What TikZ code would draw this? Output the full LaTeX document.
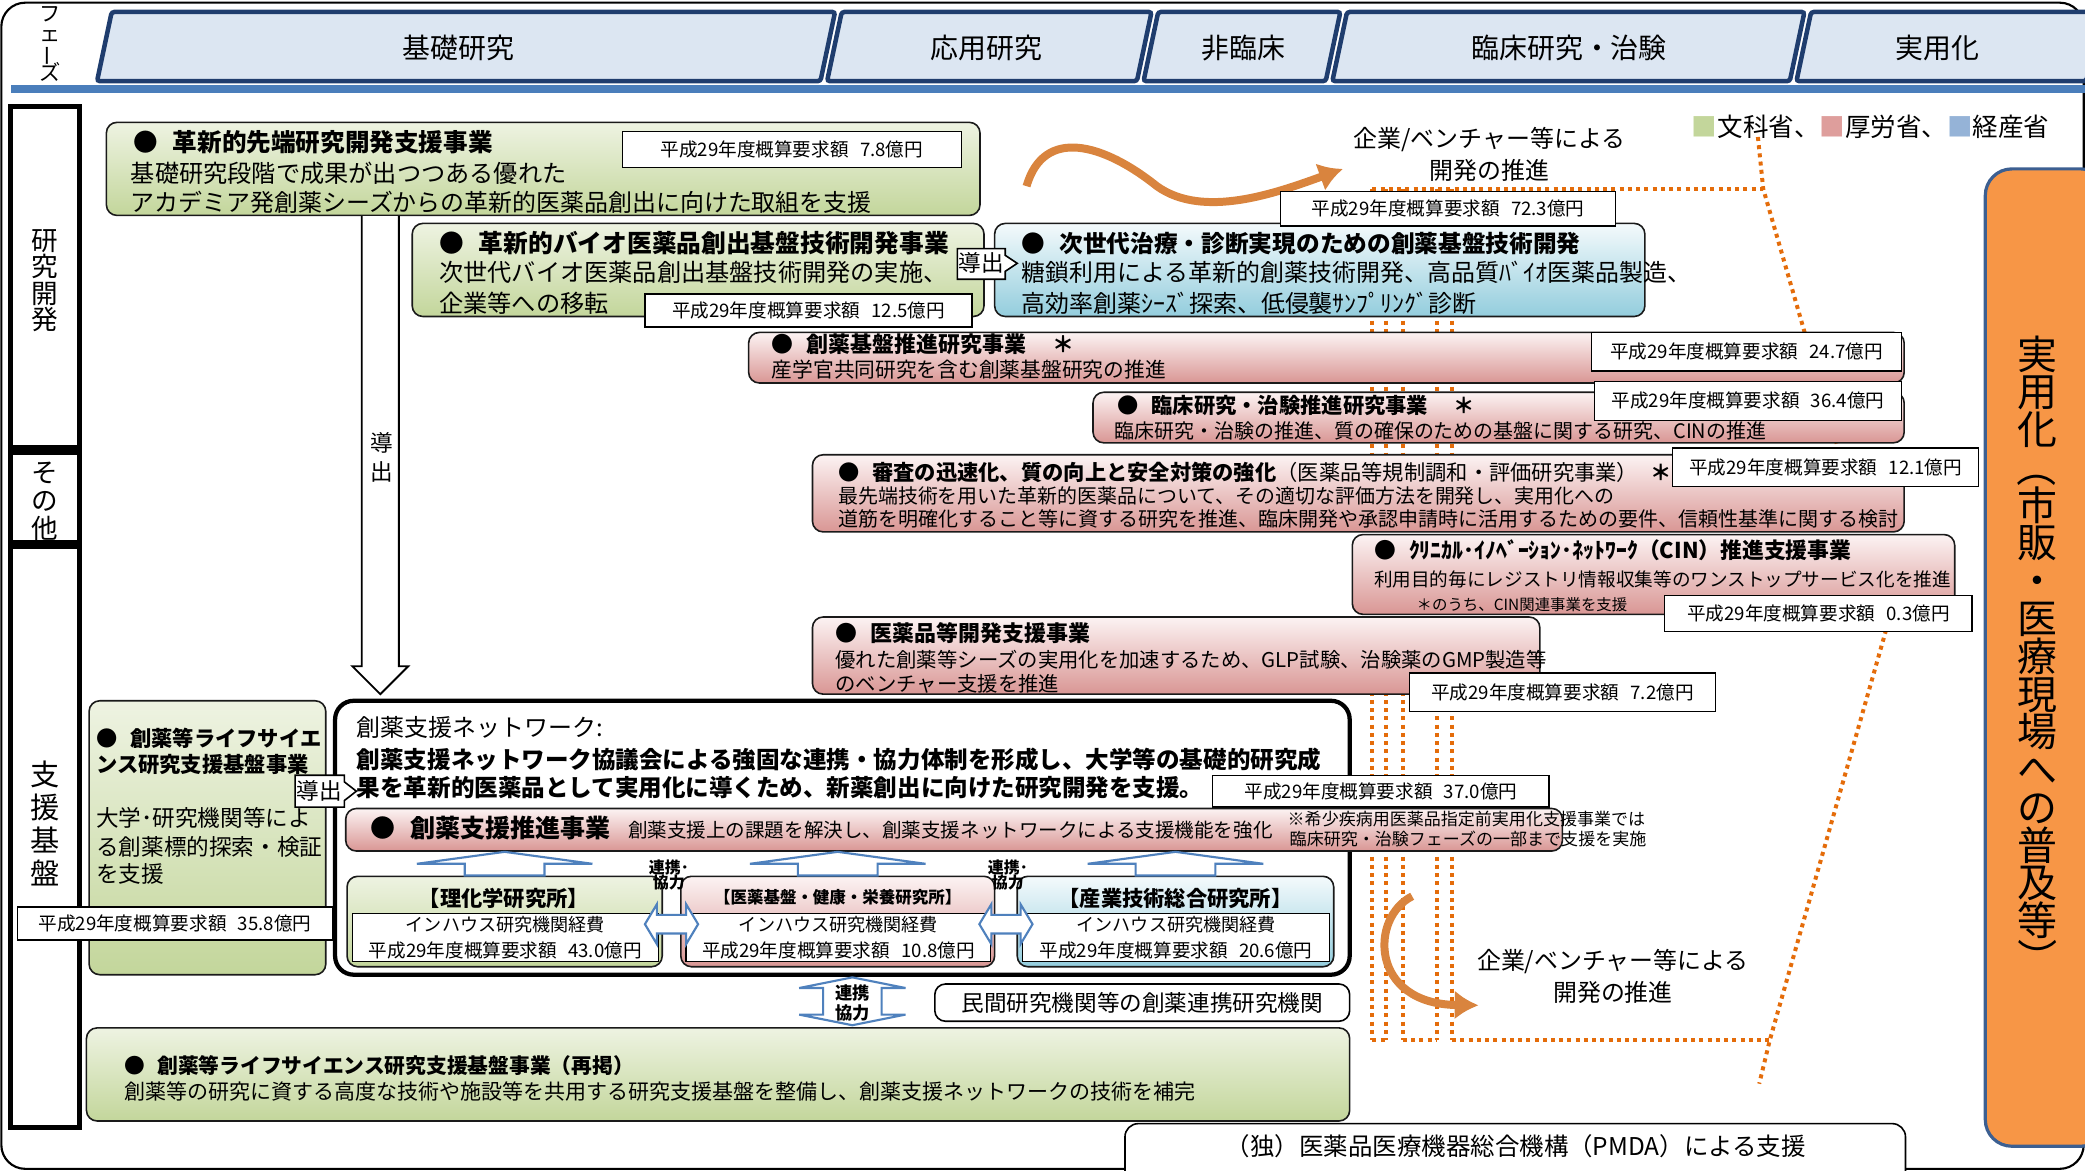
\documentclass[tikz,border=0pt]{standalone}
\usepackage{fontspec}
\setmainfont{Noto Sans CJK JP}
\usetikzlibrary{fit,calc,arrows.meta}

\definecolor{navy}{HTML}{1F3D6E}
\definecolor{phasefill}{HTML}{DCE6F2}
\definecolor{barblue}{HTML}{4A7EBB}
\definecolor{gtop}{HTML}{EEF3E2}
\definecolor{gbot}{HTML}{C3D69B}
\definecolor{ptop}{HTML}{FCF3F3}
\definecolor{pbot}{HTML}{D99694}
\definecolor{btop}{HTML}{F4FAFC}
\definecolor{bbot}{HTML}{93CDDD}
\definecolor{dorange}{HTML}{E46C0A}
\definecolor{ribbon}{HTML}{D9843E}
\definecolor{pract}{HTML}{F79646}
\definecolor{practedge}{HTML}{3C5F91}
\definecolor{arrblue}{HTML}{4F81BD}
\definecolor{edge}{HTML}{1A1A1A}
\definecolor{legG}{HTML}{C3D69B}
\definecolor{legP}{HTML}{DE9E9C}
\definecolor{legB}{HTML}{95B3D7}

\newcommand\fsz[1]{\fontsize{#1pt}{#1pt}\selectfont}
\newcommand\vfsz[2]{\fontsize{#1pt}{#2pt}\selectfont\lineskiplimit=-100pt\relax}
\newcommand\budtext[1]{平成29年度概算要求額\hspace{0.6em}#1億円}
\newcommand\bul{●\hspace{0.6em}}

\tikzset{
  phase/.style={draw=navy, line width=1.7pt, fill=phasefill, rounded corners=1pt},
  side/.style={draw=black, line width=2pt, inner sep=0},
  card/.style={draw=edge, line width=0.6pt, rounded corners=4pt, inner sep=0},
  mextbox/.style={card, top color=gtop, bottom color=gbot},
  mhlwbox/.style={card, top color=ptop, bottom color=pbot},
  metibox/.style={card, top color=btop, bottom color=bbot},
  budget/.style={draw=black, line width=0.5pt, fill=white, inner sep=0},
  budtx/.style={inner sep=0, font=\fsz{7}},
  ln/.style={anchor=west, inner sep=0},
  dots/.style={draw=dorange, line width=1.5pt, dash pattern=on 1.5pt off 1.6pt},
  ribbonarr/.style={draw=ribbon, line width=3pt, -{Latex[length=9pt,width=11pt]}},
  blarr/.style={draw=arrblue, line width=0.8pt, fill=white},
}

\newcommand\upblock[2]{\draw[blarr] let \p1=(#1.north), \p2=(#2.south) in
  (\x1-15pt,\y1) -- (\x1-15pt,\y2-4.5pt) -- (\x1-33pt,\y2-4.5pt) -- (\x1,\y2)
  -- (\x1+33pt,\y2-4.5pt) -- (\x1+15pt,\y2-4.5pt) -- (\x1+15pt,\y1) -- cycle;}
\newcommand\lrblock[1]{\draw[blarr] (#1) ++(-20,0) -- ++(9,-15) -- ++(0,8) -- ++(22,0)
  -- ++(0,-8) -- ++(9,15) -- ++(-9,15) -- ++(0,-8) -- ++(-22,0) -- ++(0,8) -- cycle;}
\newcommand\udblock[1]{\draw[blarr] (#1) ++(0,-18) -- ++(40,8) -- ++(-18,0) -- ++(0,20)
  -- ++(18,0) -- ++(-40,8) -- ++(-40,-8) -- ++(18,0) -- ++(0,-20) -- ++(-18,0) -- cycle;}

\begin{document}
\begin{tikzpicture}[x=0.5pt,y=-0.5pt]
\useasboundingbox (0,0) rectangle (1568,880);
\draw[line width=0.8pt, rounded corners=9pt] (1,2) rectangle (1567,879);

% phases
\node[inner sep=0, align=center, font=\vfsz{8}{7.4}] (phase) at (38,33)
  {フ\\ェ\\\rotatebox[origin=c]{90}{ー}\\ズ};
\draw[phase] (84,9) -- (628,9) -- (617,61) -- (73,61) -- cycle;
\draw[phase] (633,9) -- (866,9) -- (855,61) -- (622,61) -- cycle;
\draw[phase] (871,9) -- (1008,9) -- (997,61) -- (860,61) -- cycle;
\draw[phase] (1013,9) -- (1357,9) -- (1346,61) -- (1002,61) -- cycle;
\draw[phase] (1362,9) -- (1580,9) -- (1569,61) -- (1351,61) -- cycle;
\node[font=\fsz{10.5}] (ph1) at (345,36) {基礎研究};
\node[font=\fsz{10.5}] (ph2) at (742,36) {応用研究};
\node[font=\fsz{10.5}] (ph3) at (935,36) {非臨床};
\node[font=\fsz{10.5}] (ph4) at (1180,36) {臨床研究・治験};
\node[font=\fsz{10.5}] (ph5) at (1457,36) {実用化};
\fill[barblue] (8,64) rectangle (1568,70);

% left column
\node[side, fit={(8,80) (60,337)}] (rd) {};
\node[side, fit={(8,340) (60,408)}] (oth) {};
\node[side, fit={(8,411) (60,848)}] (base) {};
\node[inner sep=0, align=center, font=\vfsz{10}{10}] (rdt) at (34,211) {研\\究\\開\\発};
\node[inner sep=0, align=center, font=\vfsz{10}{10.5}] (otht) at (34,377) {そ\\の\\他};
\node[inner sep=0, align=center, font=\vfsz{11}{12.4}] (baset) at (34,619) {支\\援\\基\\盤};

% legend
\node[ln, font=\fsz{9.6}] (legend) at (1272,95)
  {\textcolor{legG}{■}文科省、\textcolor{legP}{■}厚労省、\textcolor{legB}{■}経産省};

% dotted brackets (behind the boxes)
\draw[dots] (1032,142) -- (1326,142);
\foreach \xx in {1032,1042,1055,1081,1092} \draw[dots] (\xx,142) -- (\xx,782);
\draw[dots] (1032,782) -- (1042,782);
\draw[dots] (1055,782) -- (1081,782);
\draw[dots] (1092,782) -- (1331,782);
\draw[dots] (1322,103) -- (1326,142) -- (1420,468) -- (1331,782) -- (1323,815);

% practical use
\node[fit={(1493,127) (1585,862)}, draw=practedge, line width=1.2pt, fill=pract,
  rounded corners=10pt, inner sep=0] (prac) {};
\node[inner sep=0, align=center, font=\vfsz{15}{14.2}] (pract) at (1532,494)
  {実\\用\\化\\\rotatebox[origin=c]{-90}{（}\\市\\販\\・\\医\\療\\現\\場\\へ\\の\\普\\及\\等\\\rotatebox[origin=c]{-90}{）}};

% upper orange ribbon
\node[font=\fsz{9}, inner sep=0] (dev1) at (1120,105) {企業/ベンチャー等による};
\node[font=\fsz{9}, inner sep=0] (dev1b) at (1120,128) {開発の推進};
\coordinate (rib1s) at (772,140);
\coordinate (rib1e) at (1010,127);
\draw[ribbonarr] (rib1s) .. controls (785,95) and (830,108) .. (870,140)
  .. controls (905,165) and (960,145) .. (rib1e);

% research
\node[mextbox, fit={(80,92) (737,162)}] (g1) {};
\node[ln, font=\fsz{9.25}\bfseries] (g1t) at (100,107) {\bul 革新的先端研究開発支援事業};
\node[ln, font=\fsz{9.1}] (g1a) at (98,130) {基礎研究段階で成果が出つつある優れた};
\node[ln, font=\fsz{9}] (g1b) at (98,152) {アカデミア発創薬シーズからの革新的医薬品創出に向けた取組を支援};
\node[budget, fit={(468,99) (723,126)}] (b1) {};
\node[budtx] at (b1) {\budtext{7.8}};

\draw[fill=white, line width=0.7pt] (272,0 |- g1.south) -- (272,501) -- (265,501) -- (286,522)
  -- (307,501) -- (300,501) -- (300,0 |- g1.south);
\node[inner sep=0, align=center, font=\vfsz{8.5}{11}] (dshaft) at (287,344) {導\\出};

\node[mextbox, fit={(310,168) (740,238)}] (g2) {};
\node[ln, font=\fsz{9.3}\bfseries] (g2t) at (330,183) {\bul 革新的バイオ医薬品創出基盤技術開発事業};
\node[ln, font=\fsz{9.1}] (g2a) at (330,205) {次世代バイオ医薬品創出基盤技術開発の実施、};
\node[ln, font=\fsz{9.1}] (g2b) at (330,228) {企業等への移転};
\node[budget, fit={(485,221) (731,246)}] (b2) {};
\node[budtx] at (b2) {\budtext{12.5}};

\node[metibox, fit={(748,168) (1237,238)}] (nx) {};
\node[ln, font=\fsz{8.9}\bfseries] (nxt) at (768,183) {\bul 次世代治療・診断実現のための創薬基盤技術開発};
\node[ln, font=\fsz{9}] (nxa) at (768,205) {糖鎖利用による革新的創薬技術開発、高品質ﾊﾞｲｵ医薬品製造、};
\node[ln, font=\fsz{9}] (nxb) at (768,228) {高効率創薬ｼｰｽﾞ探索、低侵襲ｻﾝﾌﾟﾘﾝｸﾞ診断};
\node[budget, fit={(963,144) (1215,170)}] (b3) {};
\node[budtx] at (b3) {\budtext{72.3}};

\draw[fill=white, line width=0.6pt] (720,187) -- (756,187) -- (756,192) -- (765,198)
  -- (756,204) -- (756,210) -- (720,210) -- cycle;
\node[font=\fsz{8.5}, inner sep=0] (d1) at (738,198) {導出};

% MHLW programmes
\node[mhlwbox, fit={(563,250) (1432,288)}] (p1) {};
\node[ln, font=\fsz{8.25}\bfseries] (p1t) at (580,259) {\bul 創薬基盤推進研究事業\hspace{1.2em}＊};
\node[ln, font=\fsz{7.8}] (p1a) at (580,278) {産学官共同研究を含む創薬基盤研究の推進};
\node[budget, fit={(1197,250) (1430,279)}] (b4) {};
\node[budtx] at (b4) {\budtext{24.7}};

\node[mhlwbox, fit={(822,295) (1432,333)}] (p2) {};
\node[ln, font=\fsz{8}\bfseries] (p2t) at (840,305) {\bul 臨床研究・治験推進研究事業\hspace{1.2em}＊};
\node[ln, font=\fsz{7.5}] (p2a) at (838,324) {臨床研究・治験の推進、質の確保のための基盤に関する研究、CINの推進};
\node[budget, fit={(1199,287) (1430,316)}] (b5) {};
\node[budtx] at (b5) {\budtext{36.4}};

\node[mhlwbox, fit={(611,342) (1432,400)}] (p3) {};
\node[ln, font=\fsz{8}] (p3t) at (630,355)
  {\textbf{\bul 審査の迅速化、質の向上と安全対策の強化}（医薬品等規制調和・評価研究事業）\hspace{0.6em}\textbf{＊}};
\node[ln, font=\fsz{7.5}] (p3a) at (630,373) {最先端技術を用いた革新的医薬品について、その適切な評価方法を開発し、実用化への};
\node[ln, font=\fsz{7.52}] (p3b) at (630,390) {道筋を明確化すること等に資する研究を推進、臨床開発や承認申請時に活用するための要件、信頼性基準に関する検討};
\node[budget, fit={(1258,337) (1488,366)}] (b6) {};
\node[budtx] at (b6) {\budtext{12.1}};

\node[mhlwbox, fit={(1017,402) (1470,462)}] (p4) {};
\node[ln, font=\fsz{8.2}\bfseries] (p4t) at (1033,414) {\bul ｸﾘﾆｶﾙ･ｲﾉﾍﾞｰｼｮﾝ･ﾈｯﾄﾜｰｸ（CIN）推進支援事業};
\node[ln, font=\fsz{7}] (p4a) at (1033,436) {利用目的毎にレジストリ情報収集等のワンストップサービス化を推進};
\node[ln, font=\fsz{5.8}] (p4b) at (1065,455) {＊のうち、CIN関連事業を支援};
\node[budget, fit={(1252,448) (1483,475)}] (b7) {};
\node[budtx] at (b7) {\budtext{0.3}};

\node[mhlwbox, fit={(611,464) (1158,522)}] (p5) {};
\node[ln, font=\fsz{8.25}\bfseries] (p5t) at (628,476) {\bul 医薬品等開発支援事業};
\node[ln, font=\fsz{7.65}] (p5a) at (628,496) {優れた創薬等シーズの実用化を加速するため、GLP試験、治験薬のGMP製造等};
\node[ln, font=\fsz{7.65}] (p5b) at (628,514) {のベンチャー支援を推進};
\node[budget, fit={(1060,506) (1290,535)}] (b8) {};
\node[budtx] at (b8) {\budtext{7.2}};

% support base
\node[mextbox, fit={(67,527) (245,733)}] (g3) {};
\node[ln, font=\fsz{8}\bfseries] (g3t) at (72,555) {\bul 創薬等ライフサイエ};
\node[ln, font=\fsz{8}\bfseries] (g3u) at (72,575) {ンス研究支援基盤事業};
\node[ln, font=\fsz{8.5}] (g3a) at (72,615) {大学･研究機関等によ};
\node[ln, font=\fsz{8.5}] (g3b) at (72,637) {る創薬標的探索・検証};
\node[ln, font=\fsz{8.5}] (g3c) at (72,657) {を支援};
\node[budget, fit={(13,682) (250,707)}] (b9) {};
\node[budtx] at (b9) {\budtext{35.8}};

\node[fit={(252,527) (1015,733)}, draw=black, line width=1.6pt, fill=white,
  rounded corners=7pt, inner sep=0] (net) {};
\node[ln, font=\fsz{9}] (nett) at (268,547) {創薬支援ネットワーク:};
\node[ln, font=\fsz{8.85}\bfseries] (neta) at (268,571) {創薬支援ネットワーク協議会による強固な連携・協力体制を形成し、大学等の基礎的研究成};
\node[ln, font=\fsz{8.85}\bfseries] (netb) at (268,592) {果を革新的医薬品として実用化に導くため、新薬創出に向けた研究開発を支援。};
\node[budget, fit={(912,583) (1165,607)}] (b10) {};
\node[budtx] at (b10) {\budtext{37.0}};

\draw[fill=white, line width=0.6pt] (222,583) -- (259,583) -- (259,588) -- (268,595)
  -- (259,602) -- (259,607) -- (222,607) -- cycle;
\node[font=\fsz{8.5}, inner sep=0] (d2) at (240,595) {導出};

\node[mhlwbox, fit={(260,608) (1175,640)}] (sb) {};
\node[ln, font=\fsz{9.4}\bfseries] (sbt) at (278,623) {\bul 創薬支援推進事業};
\node[ln, font=\fsz{7.35}] (sba) at (472,624) {創薬支援上の課題を解決し、創薬支援ネットワークによる支援機能を強化};
\node[ln, font=\fsz{6.4}] (note1) at (968,616) {※希少疾病用医薬品指定前実用化支援事業では};
\node[font=\fsz{6.4}, inner sep=0] (note2) at (1104,631) {臨床研究・治験フェーズの一部まで支援を実施};

\node[mextbox, fit={(261,659) (498,727)}] (i1) {};
\node[mhlwbox, fit={(512,659) (748,727)}] (i2) {};
\node[metibox, fit={(765,659) (1003,727)}] (i3) {};
\node[budget, fit={(265,687) (495,723)}] (i1in) {};
\node[budget, fit={(516,687) (745,723)}] (i2in) {};
\node[budget, fit={(769,687) (1000,723)}] (i3in) {};
\node[font=\fsz{8}\bfseries, inner sep=0] (i1t) at (379,676) {【理化学研究所】};
\node[font=\fsz{6.2}\bfseries, inner sep=0] (i2t) at (630,675) {【医薬基盤・健康・栄養研究所】};
\node[font=\fsz{8}\bfseries, inner sep=0] (i3t) at (884,676) {【産業技術総合研究所】};
\foreach \nn in {i1,i2,i3} {
  \node[font=\fsz{6.8}, inner sep=0] at ($(\nn in.north)+(0,9)$) {インハウス研究機関経費};
}
\node[budtx] at ($(i1in.south)+(0,-9)$) {\budtext{43.0}};
\node[budtx] at ($(i2in.south)+(0,-9)$) {\budtext{10.8}};
\node[budtx] at ($(i3in.south)+(0,-9)$) {\budtext{20.6}};

\upblock{i1}{sb}
\upblock{i2}{sb}
\upblock{i3}{sb}
\lrblock{$(i1.east)!0.5!(i2.west)+(0,2)$}
\lrblock{$(i2.east)!0.5!(i3.west)+(0,2)$}
\node[font=\fsz{6}\bfseries, inner sep=0, align=center] (co1) at (503,658) {連携･\\協力};
\node[font=\fsz{6}\bfseries, inner sep=0, align=center] (co2) at (758,658) {連携･\\協力};

\udblock{641,753}
\node[font=\vfsz{6.5}{7.6}\bfseries, inner sep=0, align=center] (co3) at (641,754) {連携\\協力};
\node[fit={(703,740) (1015,768)}, draw=black, line width=0.6pt, fill=white,
  rounded corners=4pt, inner sep=0] (priv) {};
\node[font=\fsz{8.5}, inner sep=0] at (priv) {民間研究機関等の創薬連携研究機関};

\node[mextbox, fit={(65,773) (1015,843)}] (g4) {};
\node[ln, font=\fsz{7.8}\bfseries] (g4t) at (93,801) {\bul 創薬等ライフサイエンス研究支援基盤事業（再掲）};
\node[ln, font=\fsz{7.9}] (g4a) at (93,821) {創薬等の研究に資する高度な技術や施設等を共用する研究支援基盤を整備し、創薬支援ネットワークの技術を補完};

% lower orange ribbon
\coordinate (rib2s) at (1062,674);
\coordinate (rib2e) at (1112,756);
\draw[ribbonarr] (rib2s) .. controls (1030,690) and (1030,755) .. (rib2e);
\node[font=\fsz{9}, inner sep=0] (dev2) at (1213,723) {企業/ベンチャー等による};
\node[font=\fsz{9}, inner sep=0] (dev2b) at (1213,746) {開発の推進};

\node[fit={(846,845) (1433,890)}, draw=black, line width=0.6pt, fill=white,
  rounded corners=5pt, inner sep=0] (pmda) {};
\node[font=\fsz{9.2}, inner sep=0] (pmdat) at (1140,862) {（独）医薬品医療機器総合機構（PMDA）による支援};
\end{tikzpicture}
\end{document}
